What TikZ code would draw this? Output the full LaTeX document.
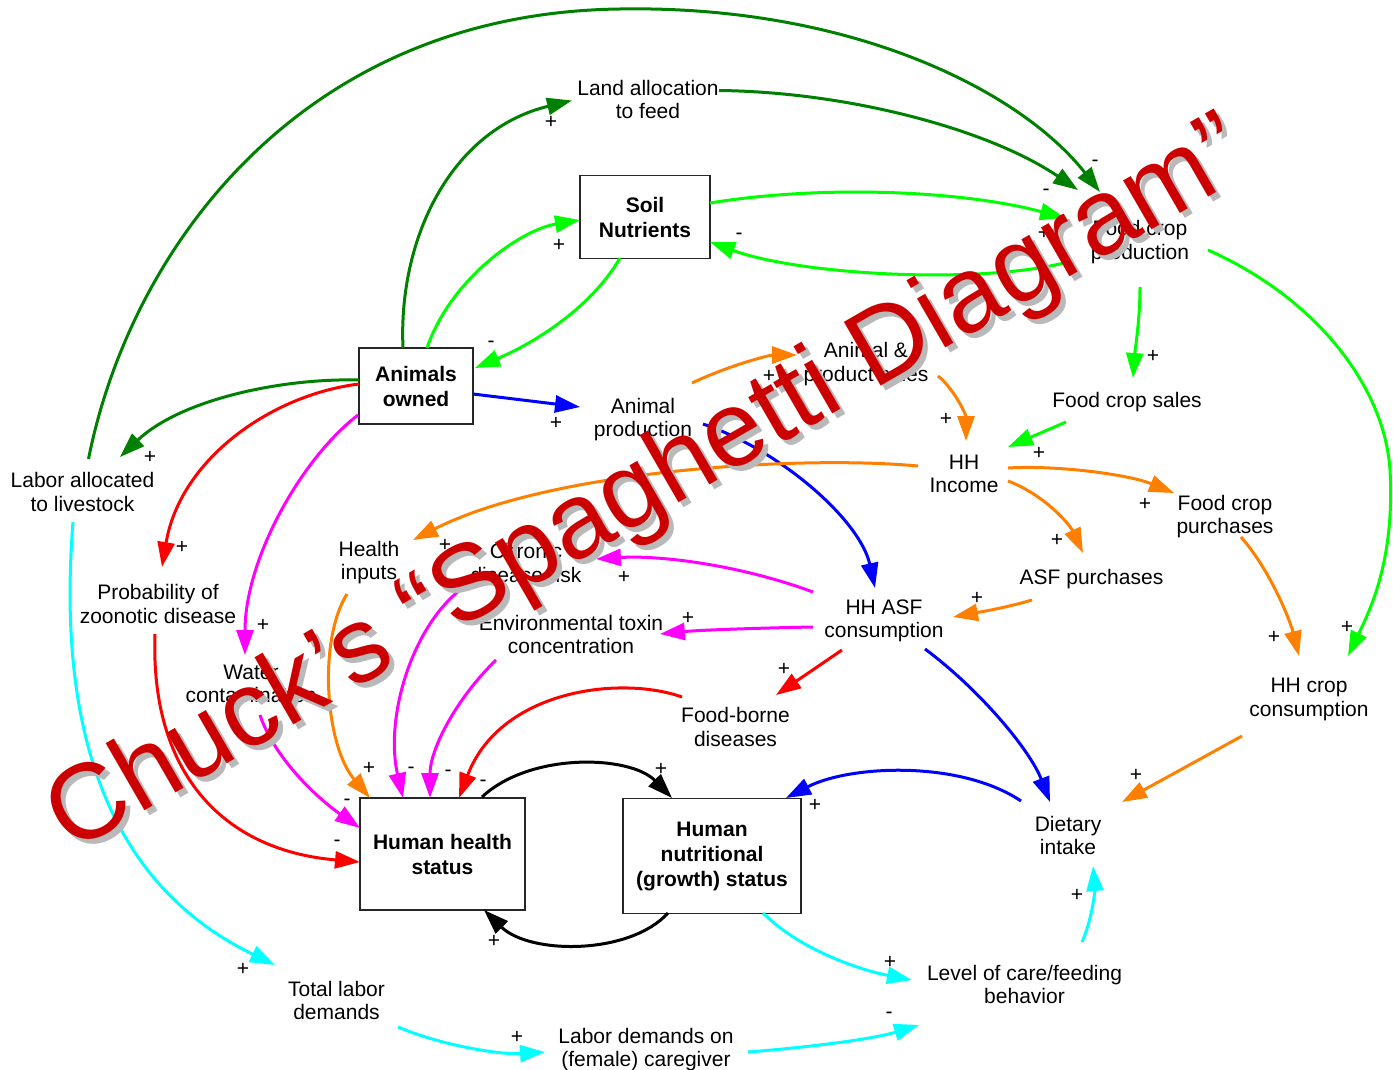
\documentclass[tikz,border=0pt]{standalone}
\usepackage{fontspec}
\setmainfont{Liberation Sans}
\usetikzlibrary{arrows.meta,calc}
\definecolor{dgreen}{RGB}{0,128,0}
\definecolor{limeg}{RGB}{0,255,0}
\definecolor{blu}{RGB}{0,0,255}
\definecolor{rd}{RGB}{255,0,0}
\definecolor{mag}{RGB}{255,0,255}
\definecolor{orng}{RGB}{255,128,0}
\definecolor{cyn}{RGB}{0,255,255}
\definecolor{ovred}{RGB}{204,0,0}
\definecolor{ovgray}{RGB}{185,185,185}
\begin{document}
\begin{tikzpicture}[x=0.5pt,y=-0.5pt,
  every node/.style={font=\fontsize{10.5}{11.8}\selectfont},
  txt/.style={align=center,inner sep=0pt,yshift=-1pt},
  box/.style={draw=black!85,line width=0.7pt,fill=white,align=center,inner sep=0pt,font=\fontsize{10.5}{12.5}\selectfont\bfseries},
  lk/.style={line width=1.5pt,-{Triangle[length=12.5pt,width=8.5pt]}},
  pol/.style={inner sep=0pt,text=black,font=\fontsize{10.5}{11.8}\selectfont},
  ovl/.style={inner sep=0pt,rotate=30,font=\fontsize{53.5}{60}\selectfont}]
\fill[white] (0,0) rectangle (1393,1070);
\useasboundingbox (0,0) rectangle (1393,1070);
% boxes
\node[box,minimum width=65pt,minimum height=41.5pt] (soil) at (645,217) {Soil\\Nutrients};
\node[box,minimum width=57pt,minimum height=38pt] (anim) at (416,386) {Animals\\owned};
\node[box,minimum width=82.5pt,minimum height=56pt] (hhs) at (442.5,854) {Human health\\status};
\node[box,minimum width=89pt,minimum height=57.5pt] (hns) at (712,856) {Human\\nutritional\\(growth) status};
% text nodes
\node[txt] (land) at (648,97.5) {Land allocation\\to feed};
\node[txt] (fcp) at (1140,240) {Food crop\\production};
\node[txt] (aps) at (866,362) {Animal \&\\product sales};
\node[txt] (aprod) at (643,417.5) {Animal\\production};
\node[txt] (fcs) at (1127,400) {Food crop sales};
\node[txt] (inc) at (964,472) {HH\\Income};
\node[txt] (lab) at (82.5,490) {Labor allocated\\to livestock};
\node[txt] (fcpur) at (1225,514.5) {Food crop\\purchases};
\node[txt] (hin) at (369,560.5) {Health\\inputs};
\node[txt] (chr) at (526,561) {Chronic\\disease risk};
\node[txt] (prob) at (158,602) {Probability of\\zoonotic disease};
\node[txt] (asfp) at (1091.5,577) {ASF purchases};
\node[txt] (asf) at (884,619) {HH ASF\\consumption};
\node[txt] (env) at (571,632.5) {Environmental toxin\\concentration};
\node[txt] (water) at (251,682) {Water\\contamination};
\node[txt] (hhc) at (1309,697.5) {HH crop\\consumption};
\node[txt] (fbd) at (735.5,725) {Food-borne\\diseases};
\node[txt] (diet) at (1068,833.5) {Dietary\\intake};
\node[txt] (tld) at (336.5,998.5) {Total labor\\demands};
\node[txt] (care) at (1024.5,982.5) {Level of care/feeding\\behavior};
\node[txt] (ldc) at (646,1047.5) {Labor demands on\\(female) caregiver};
% dark green
\draw[lk,dgreen] ($(anim)+(-13,-38)$) .. controls (398,240) and (450,130) .. ($(land)+(-76,1)$) node[pol] at (551,122) {+};
\draw[lk,dgreen] ($(land)+(71,-9)$) .. controls (850,92) and (990,130) .. ($(fcp)+(-62,-52)$) node[pol] at (1046,192) {-};
\draw[lk,dgreen] ($(lab)+(6,-33)$) .. controls (130,250) and (300,13) .. (620,9) .. controls (850,5) and (1020,90) .. ($(fcp)+(-40,-50)$) node[pol] at (1095,163) {-};
\draw[lk,dgreen] ($(anim)+(-57,-6)$) .. controls (280,378) and (180,400) .. ($(lab)+(37.5,-35)$) node[pol] at (150,457) {+};
% lime
\draw[lk,limeg] ($(anim)+(11,-38)$) .. controls (450,280) and (520,230) .. ($(soil)+(-65,3)$) node[pol] at (559,245) {+};
\draw[lk,limeg] ($(soil)+(-25,41)$) .. controls (590,310) and (530,345) .. ($(anim)+(59,-18)$) node[pol] at (491,344) {-};
\draw[lk,limeg] ($(soil)+(65,-14)$) .. controls (820,185) and (960,190) .. ($(fcp)+(-75,-24)$) node[pol] at (1044,233) {+};
\draw[lk,limeg] ($(fcp)+(-72,20)$) .. controls (980,285) and (800,275) .. ($(soil)+(65,25)$) node[pol] at (739,236) {-};
\draw[lk,limeg] ($(fcp)+(0,45)$) .. controls (1140,320) and (1135,350) .. ($(fcs)+(6,-24)$) node[pol] at (1153,356) {+};
\draw[lk,limeg] ($(fcs)+(-61,20)$) -- ($(inc)+(44,-27)$) node[pol] at (1039,453) {+};
\draw[lk,limeg] ($(fcp)+(68,8)$) .. controls (1320,300) and (1385,390) .. (1390,470) .. controls (1395,560) and (1370,610) .. ($(hhc)+(39,-43.5)$) node[pol] at (1347,627) {+};
% blue
\draw[lk,blu] ($(anim)+(57,8)$) -- ($(aprod)+(-63,-12.5)$) node[pol] at (556,423) {+};
\draw[lk,blu] ($(aprod)+(60,4.5)$) .. controls (780,450) and (860,520) .. ($(asf)+(-9,-33)$);
\draw[lk,blu] ($(asf)+(41,28)$) .. controls (980,690) and (1030,750) .. ($(diet)+(-18,-33.5)$);
\draw[lk,blu] ($(diet)+(-47,-34.5)$) .. controls (960,760) and (850,765) .. ($(hns)+(74,-58)$) node[pol] at (815,805) {+};
% orange
\draw[lk,orng] ($(aprod)+(49,-36.5)$) .. controls (730,365) and (770,355) .. ($(aps)+(-69,-9)$) node[pol] at (769,376) {+};
\draw[lk,orng] ($(aps)+(72,12)$) .. controls (955,390) and (966,415) .. ($(inc)+(2,-33)$) node[pol] at (946,419) {+};
\draw[lk,orng] ($(inc)+(-46,-8)$) .. controls (800,455) and (550,470) .. ($(hin)+(44,-22.5)$) node[pol] at (445,545) {+};
\draw[lk,orng] ($(inc)+(44,-6)$) .. controls (1060,465) and (1130,475) .. ($(fcpur)+(-51,-23.5)$) node[pol] at (1145,504) {+};
\draw[lk,orng] ($(inc)+(44,7)$) .. controls (1045,495) and (1070,525) .. ($(asfp)+(-8.5,-26)$) node[pol] at (1057,540) {+};
\draw[lk,orng] ($(asfp)+(-59.5,21)$) .. controls (1005,608) and (980,612) .. ($(asf)+(69,-4)$) node[pol] at (977,598) {+};
\draw[lk,orng] ($(fcpur)+(16,20.5)$) .. controls (1270,570) and (1290,620) .. ($(hhc)+(-10,-43.5)$) node[pol] at (1274,637) {+};
\draw[lk,orng] ($(hhc)+(-67,36.5)$) -- ($(diet)+(54,-33.5)$) node[pol] at (1136,775) {+};
\draw[lk,orng] ($(hin)+(-22,31.5)$) .. controls (318,640) and (325,745) .. ($(hhs)+(-72.5,-56)$) node[pol] at (369,768) {+};
% magenta
\draw[lk,mag] ($(asf)+(-71,-29)$) .. controls (740,565) and (660,555) .. ($(chr)+(70,-4)$) node[pol] at (624,577) {+};
\draw[lk,mag] ($(asf)+(-71,6)$) .. controls (760,628) and (700,630) .. ($(env)+(89,-0.5)$) node[pol] at (688,618) {+};
\draw[lk,mag] ($(anim)+(-58,29)$) .. controls (300,460) and (245,560) .. ($(water)+(-6,-29)$) node[pol] at (263,625) {+};
\draw[lk,mag] ($(water)+(9,31)$) .. controls (275,760) and (320,800) .. ($(hhs)+(-82.5,-26)$) node[pol] at (347,802) {-};
\draw[lk,mag] ($(chr)+(-66,27)$) .. controls (410,630) and (385,720) .. ($(hhs)+(-39.5,-56)$) node[pol] at (411,770) {-};
\draw[lk,mag] ($(env)+(-75,25.5)$) .. controls (455,700) and (430,750) .. ($(hhs)+(-12.5,-56)$) node[pol] at (448,773) {-};
% red
\draw[lk,rd] ($(anim)+(-57,-2)$) .. controls (270,395) and (180,460) .. ($(prob)+(4,-37)$) node[pol] at (182,547) {+};
\draw[lk,rd] ($(prob)+(-3,30)$) .. controls (150,770) and (220,850) .. ($(hhs)+(-82.5,8)$) node[pol] at (337,843) {-};
\draw[lk,rd] ($(fbd)+(-53.5,-30)$) .. controls (620,675) and (500,690) .. ($(hhs)+(16.5,-56)$) node[pol] at (483,783) {-};
\draw[lk,rd] ($(asf)+(-42,29)$) -- ($(fbd)+(40.5,-32)$) node[pol] at (784,669) {+};
% black
\draw[lk,black] ($(hhs)+(39.5,-57)$) .. controls (530,752) and (630,755) .. ($(hns)+(-40,-58)$) node[pol] at (661,769) {+};
\draw[lk,black] ($(hns)+(-44,57)$) .. controls (630,955) and (530,955) .. ($(hhs)+(41.5,56)$) node[pol] at (494,941) {+};
% cyan
\draw[lk,cyn] ($(lab)+(-9.5,30)$) .. controls (55,750) and (120,890) .. ($(tld)+(-61.5,-35.5)$) node[pol] at (243,969) {+};
\draw[lk,cyn] ($(tld)+(61.5,26.5)$) .. controls (440,1045) and (500,1055) .. ($(ldc)+(-101,2.5)$) node[pol] at (517,1037) {+};
\draw[lk,cyn] ($(ldc)+(102,2.5)$) .. controls (800,1048) and (870,1040) .. ($(care)+(-105.5,40.5)$) node[pol] at (889,1015) {-};
\draw[lk,cyn] ($(hns)+(51,57)$) .. controls (800,950) and (860,970) .. ($(care)+(-112.5,-4.5)$) node[pol] at (890,962) {+};
\draw[lk,cyn] ($(care)+(57.5,-42.5)$) .. controls (1092,920) and (1095,890) .. ($(diet)+(25,30.5)$) node[pol] at (1077,895) {+};
% overlay title
\node[ovl,text=ovgray] (ovshadow) at (654,493) {Chuck’s “Spaghetti Diagram”};
\node[ovl,text=ovred] (ovtitle) at (649,488) {Chuck’s “Spaghetti Diagram”};
\end{tikzpicture}
\end{document}
